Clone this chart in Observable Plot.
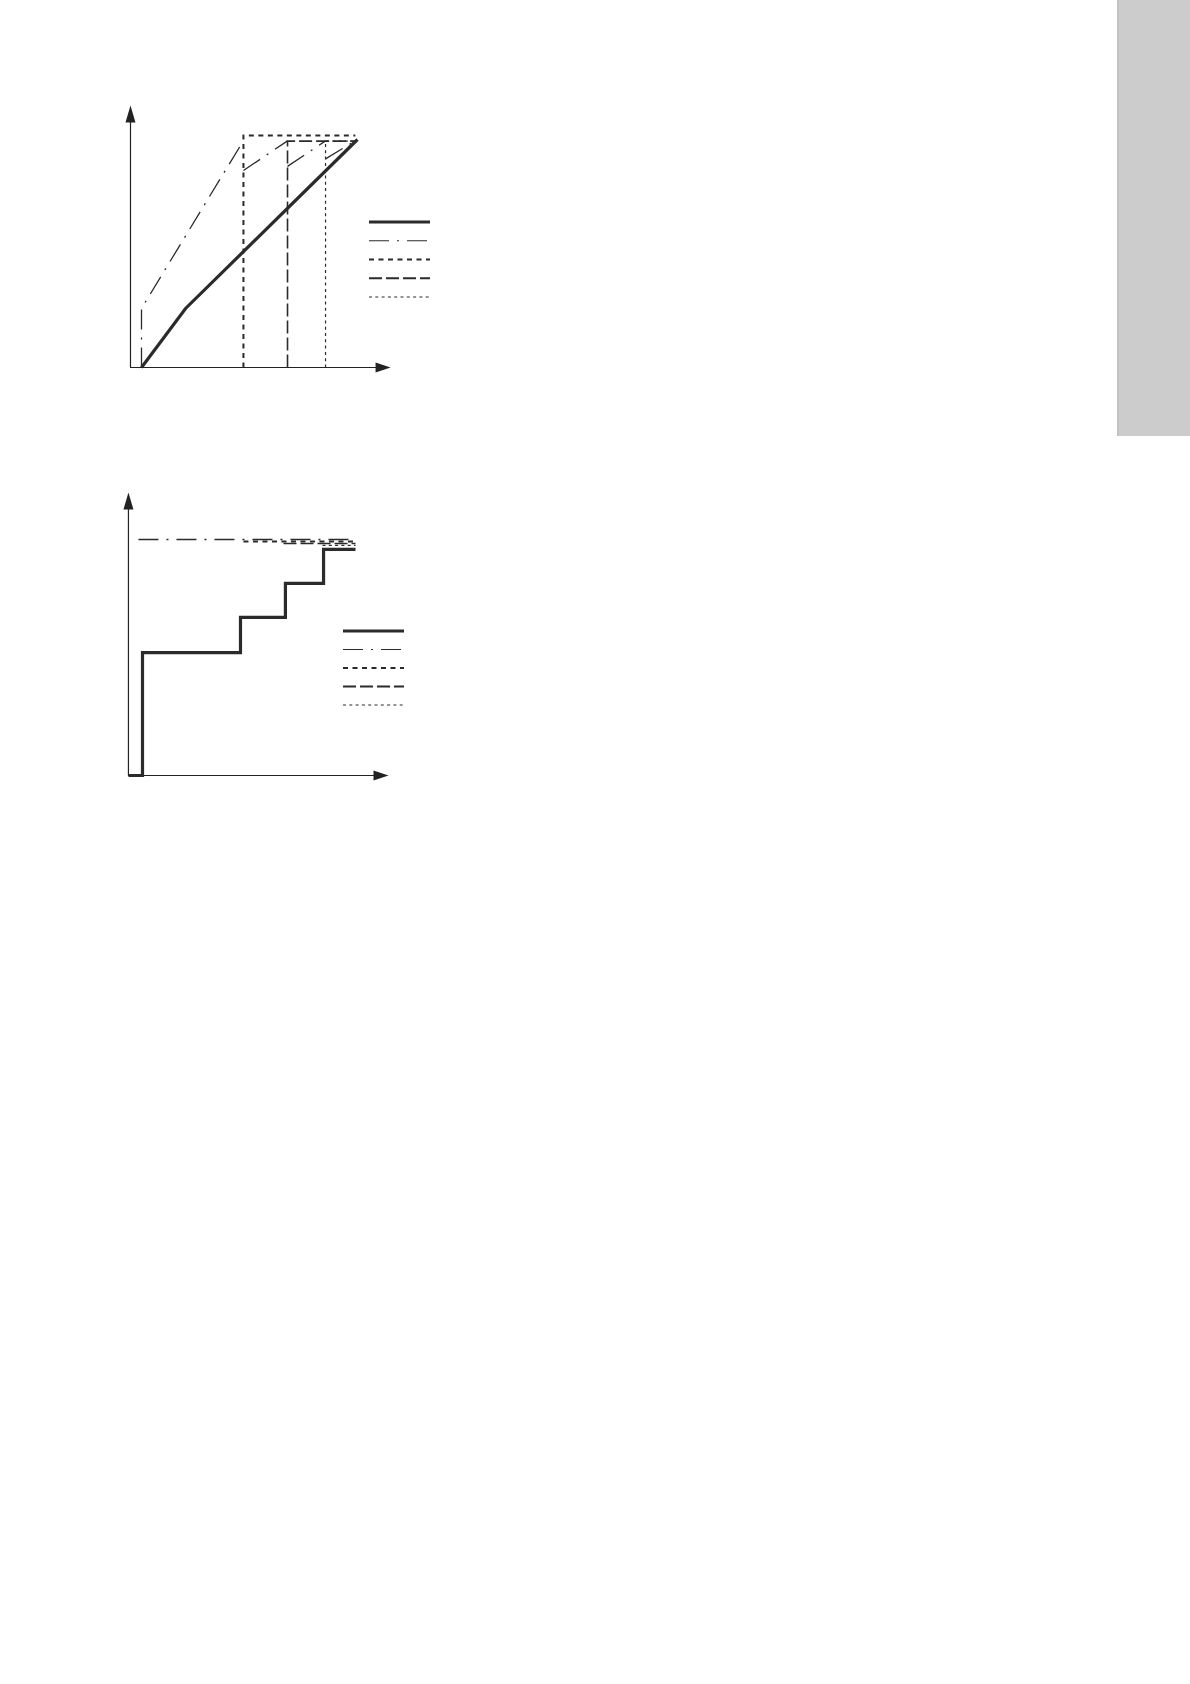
<!DOCTYPE html>
<html>
<head>
<meta charset="utf-8">
<script src="https://cdn.jsdelivr.net/npm/d3@7"></script>
<script src="https://cdn.jsdelivr.net/npm/@observablehq/plot@0.6"></script>
<style>
  html, body { margin: 0; padding: 0; background: #fff; }
  body { width: 1190px; height: 1684px; position: relative; overflow: hidden; font-family: "DejaVu Sans", sans-serif; }
  .chart { position: absolute; }
  .chart svg { overflow: visible; max-width: none; background: transparent; }
  .legend { position: absolute; }
  .sidebar { position: absolute; left: 1117px; top: 0; width: 73px; height: 436px; background: #cccccc; box-shadow: inset 2px 0 0 #c3c3c3; }
</style>
</head>
<body>
<div class="sidebar"></div>
<div id="c1" class="chart" style="left:100px; top:90px; width:350px; height:300px;"></div>
<div id="c2" class="chart" style="left:100px; top:470px; width:350px; height:330px;"></div>
<div id="l1" class="legend" style="left:369px; top:212px;"></div>
<div id="l2" class="legend" style="left:343px; top:621px;"></div>
<script>
// ---------- series styles (legend order) ----------
const seriesNames = ["solid", "dashdot", "shortdash", "longdash", "dotted"];
const seriesWidth = [3.2, 1.3, 2, 1.6, 1.2];
const legendWidth = [3, 1.2, 2.2, 2.2, 1.1];
const seriesDash = ["none", "20,8,2,8", "5,4.5", "13,4", "3,3.3"];
const ink = "#2b2b2b";

// ---------- chart 1 data (x: 0..100, y: 0..100) ----------
const c1Axis = { x0: -5.1, xTip: 115.3, yTip: 114.9 };
const c1Solid = [[0, 0], [20.4, 25.9], [100, 100]];
const c1DashDotA = [[0, 0], [0, 25.9], [47.2, 99.5]];
const c1DashDotB = [[47.2, 86.4], [67.6, 99.4]];
const c1DashDotC = [[67.6, 88.2], [85.2, 99.4]];
const c1DashDotD = [[85.2, 91.5], [100, 100]];
const c1Short = [[47.2, 0], [47.2, 101.8], [99, 101.8]];
const c1Long = [[67.6, 0], [67.6, 99.3], [99, 99.3]];
const c1Dotted = [[85.2, 0], [85.2, 99.3], [99, 99.3]];

// ---------- chart 2 data ----------
const c2Axis = { x0: -6.6, xTip: 115.5, yTip: 119.9 };
const c2Solid = [[-6.6, 0], [0, 0], [0, 52.1], [46, 52.1], [46, 67], [67.1, 67], [67.1, 81.4], [85, 81.4], [85, 95.8], [100, 95.8]];
const c2DashDot = [[-1.9, 100], [100, 100]];
const c2Short = [[47.4, 99.2], [100, 99.2]];
const c2Long = [[66.2, 98.3], [100, 98.3]];
const c2Dotted = [[84.5, 97.5], [100, 97.5]];

// ---------- arrowhead symbols ----------
const arrowRight = { draw(ctx) { ctx.moveTo(0, 0); ctx.lineTo(-15, -5); ctx.lineTo(-15, 5); ctx.closePath(); } };
const arrowUp = { draw(ctx) { ctx.moveTo(0, 0); ctx.lineTo(-5, 17); ctx.lineTo(5, 17); ctx.closePath(); } };

function lineMark(data, i) {
  return Plot.line(data, {
    x: d => d[0], y: d => d[1],
    stroke: ink,
    strokeWidth: seriesWidth[i],
    strokeDasharray: seriesDash[i],
    strokeLinejoin: "miter",
    strokeMiterlimit: 4,
    strokeLinecap: "butt"
  });
}

function axisMarks(ax) {
  return [
    Plot.ruleY([0], { x1: ax.x0, x2: ax.xTip - 2, stroke: "#222", strokeWidth: 1.2 }),
    Plot.ruleX([ax.x0], { y1: 0, y2: ax.yTip - 2, stroke: "#222", strokeWidth: 1.2 }),
    Plot.dot([[ax.xTip, 0]], { x: d => d[0], y: d => d[1], symbol: arrowRight, fill: "#222", stroke: "none", r: 5 }),
    Plot.dot([[ax.x0, ax.yTip]], { x: d => d[0], y: d => d[1], symbol: arrowUp, fill: "#222", stroke: "none", r: 5 })
  ];
}

const chart1 = Plot.plot({
  width: 350, height: 300,
  x: { domain: [0, 100], range: [41, 257], axis: null },
  y: { domain: [0, 100], range: [277, 49], axis: null },
  marks: [
    lineMark(c1Dotted, 4),
    lineMark(c1Long, 3),
    lineMark(c1Short, 2),
    lineMark(c1DashDotA, 1),
    lineMark(c1DashDotB, 1),
    lineMark(c1DashDotC, 1),
    lineMark(c1DashDotD, 1),
    lineMark(c1Solid, 0),
    ...axisMarks(c1Axis)
  ]
});
document.getElementById("c1").appendChild(chart1);

const chart2 = Plot.plot({
  width: 350, height: 330,
  x: { domain: [0, 100], range: [42, 255], axis: null },
  y: { domain: [0, 100], range: [305, 69], axis: null },
  marks: [
    lineMark(c2DashDot, 1),
    lineMark(c2Short, 2),
    lineMark(c2Long, 3),
    lineMark(c2Dotted, 4),
    ...axisMarks(c2Axis),
    lineMark(c2Solid, 0)
  ]
});
document.getElementById("c2").appendChild(chart2);

// ---------- legends (line samples only) ----------
function legend(el, w, step) {
  const svg = d3.select(el).append("svg").attr("width", w + 2).attr("height", step * 5 + 4);
  seriesNames.forEach((s, i) => {
    svg.append("line")
      .attr("x1", 0).attr("x2", w)
      .attr("y1", 10 + i * step).attr("y2", 10 + i * step)
      .attr("stroke", ink)
      .attr("stroke-width", legendWidth[i])
      .attr("stroke-dasharray", seriesDash[i]);
  });
}
legend(document.getElementById("l1"), 61, 18.75);
legend(document.getElementById("l2"), 61, 18.5);
</script>
</body>
</html>
